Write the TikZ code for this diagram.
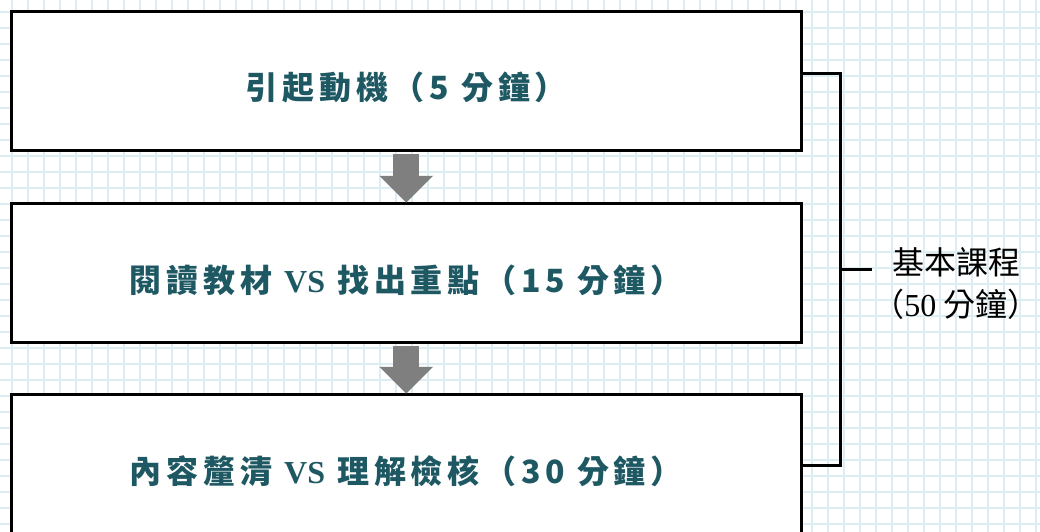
\documentclass[tikz,border=0pt]{standalone}
\usepackage{fontspec}
\usepackage{tikz}
\usetikzlibrary{arrows.meta}
\setmainfont{Noto Sans CJK TC}
\newfontfamily\latinserif{Liberation Serif}
\definecolor{StageTeal}{HTML}{1E5863}
\definecolor{GridBlue}{HTML}{DCEEF1}
\definecolor{ArrowGray}{HTML}{7F7F7F}

\tikzset{
  stage/.style={draw=black, line width=3pt, fill=white, minimum width=789.5pt,
    minimum height=138.5pt, inner sep=0pt, outer sep=0pt, text=StageTeal,
    text height=42pt, text depth=4pt,
    font=\fontsize{32}{38}\selectfont\bfseries\addfontfeature{LetterSpace=15}},
  flow/.style={draw=ArrowGray, line width=26pt, -{Triangle[length=27pt,width=52pt]},
    shorten <=4pt, shorten >=1pt},
  brace/.style={draw=black, line width=3pt},
  gridline/.style={draw=GridBlue, line width=1.5pt},
  sumlabel/.style={align=center, inner sep=0pt, font=\fontsize{32}{42}\selectfont},
}

\begin{document}
\begin{tikzpicture}[x=1pt, y=-1pt]
    \useasboundingbox (0,0) rectangle (1040,532);
    \fill[white] (0,0) rectangle (1040,532);
    \foreach \gx in {12,28,...,1036}
        \draw[gridline] (\gx,0) -- (\gx,532);
    \foreach \gy in {12,28,...,524}
        \draw[gridline] (0,\gy) -- (1040,\gy);

    \node[stage] (motive) at (406.25,80.75) {引起動機（5 分鐘）};
    \node[stage] (reading) at (406.25,273) {閱讀教材 {\latinserif VS} 找出重點（15 分鐘）};
    \node[stage] (clarify) at (406.25,464) {內容釐清 {\latinserif VS} 理解檢核（30 分鐘）};

    \draw[flow] (motive.south) -- (reading.north);
    \draw[flow] (reading.south) -- (clarify.north);

    \node[sumlabel] (total) at (956,284) {基本課程\\（{\latinserif 50} 分鐘）};
    \coordinate (brk) at (840,269);
    \draw[brace] ([yshift=7pt]motive.east) -| (brk) |- ([yshift=-1pt]clarify.east);
    \draw[brace] (brk) -- (brk -| total.west);
\end{tikzpicture}
\end{document}
